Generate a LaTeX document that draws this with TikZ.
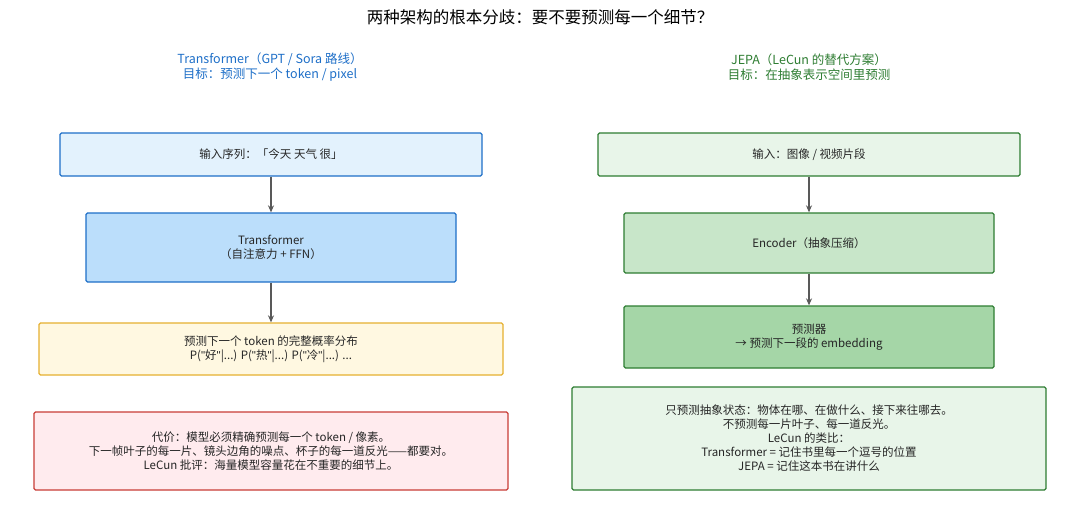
\documentclass[tikz,border=0pt]{standalone}
\usepackage{fontspec}
\setmainfont{Noto Sans CJK SC}
\newfontfamily\latf{Liberation Sans}
\newcommand{\dq}{{\latf"}}
\usetikzlibrary{arrows.meta}
\definecolor{bluet}{HTML}{1E6FC8}
\definecolor{greent}{HTML}{2E7D32}
\tikzset{
 bx/.style={draw, line width=1.3pt, rounded corners=1.5pt, align=center, font=\fontsize{11.5}{14}\selectfont, text=black!85, inner sep=0pt},
 arr/.style={-{Stealth[length=7pt,width=6pt]}, draw=black!65, line width=1.2pt}
}
\begin{document}
\begin{tikzpicture}[x=1pt,y=-1pt]
\fill[white] (0,0) rectangle (1080,523);
\node[font=\fontsize{16.5}{18}\selectfont] (title) at (540,17) {两种架构的根本分歧：要不要预测每一个细节？};
\node[text=bluet, align=center, font=\fontsize{12.5}{15}\selectfont] (hl) at (270,67) {Transformer（GPT / Sora 路线）\\目标：预测下一个 token / pixel};
\node[text=greent, align=center, font=\fontsize{12.5}{15}\selectfont] (hr) at (809,67) {JEPA（LeCun 的替代方案）\\目标：在抽象表示空间里预测};
\node[bx, draw=bluet, fill={rgb,255:red,227;green,242;blue,253}, minimum width=422pt, minimum height=43pt] (l1) at (271,154.5) {输入序列：「今天 天气 很」};
\node[bx, draw=bluet, fill={rgb,255:red,187;green,222;blue,251}, minimum width=370pt, minimum height=69pt] (l2) at (271,247.5) {Transformer\\（自注意力 + FFN）};
\node[bx, draw={rgb,255:red,230;green,176;blue,48}, fill={rgb,255:red,255;green,248;blue,225}, minimum width=464pt, minimum height=52pt] (l3) at (271,349) {预测下一个 token 的完整概率分布\\P(\dq 好\dq|...) P(\dq 热\dq|...) P(\dq 冷\dq|...) ...};
\node[bx, draw={rgb,255:red,200;green,60;blue,55}, fill={rgb,255:red,255;green,235;blue,238}, minimum width=474pt, minimum height=78pt] (l4) at (271,451) {代价：模型必须精确预测每一个 token / 像素。\\下一帧叶子的每一片、镜头边角的噪点、杯子的每一道反光——都要对。\\LeCun 批评：海量模型容量花在不重要的细节上。};
\node[bx, draw=greent, fill={rgb,255:red,232;green,245;blue,233}, minimum width=422pt, minimum height=43pt] (r1) at (809,154.5) {输入：图像 / 视频片段};
\node[bx, draw=greent, fill={rgb,255:red,200;green,230;blue,201}, minimum width=370pt, minimum height=60pt] (r2) at (809,243) {Encoder（抽象压缩）};
\node[bx, draw=greent, fill={rgb,255:red,165;green,214;blue,167}, minimum width=370pt, minimum height=62pt] (r3) at (809,337) {预测器\\→ 预测下一段的 embedding};
\node[bx, draw=greent, fill={rgb,255:red,232;green,245;blue,233}, minimum width=474pt, minimum height=103pt] (r4) at (809,438.5) {只预测抽象状态：物体在哪、在做什么、接下来往哪去。\\不预测每一片叶子、每一道反光。\\LeCun 的类比：\\Transformer = 记住书里每一个逗号的位置\\JEPA = 记住这本书在讲什么};
\draw[arr] (l1) -- (l2);
\draw[arr] (l2) -- (l3);
\draw[arr] (r1) -- (r2);
\draw[arr] (r2) -- (r3);
\end{tikzpicture}
\end{document}
